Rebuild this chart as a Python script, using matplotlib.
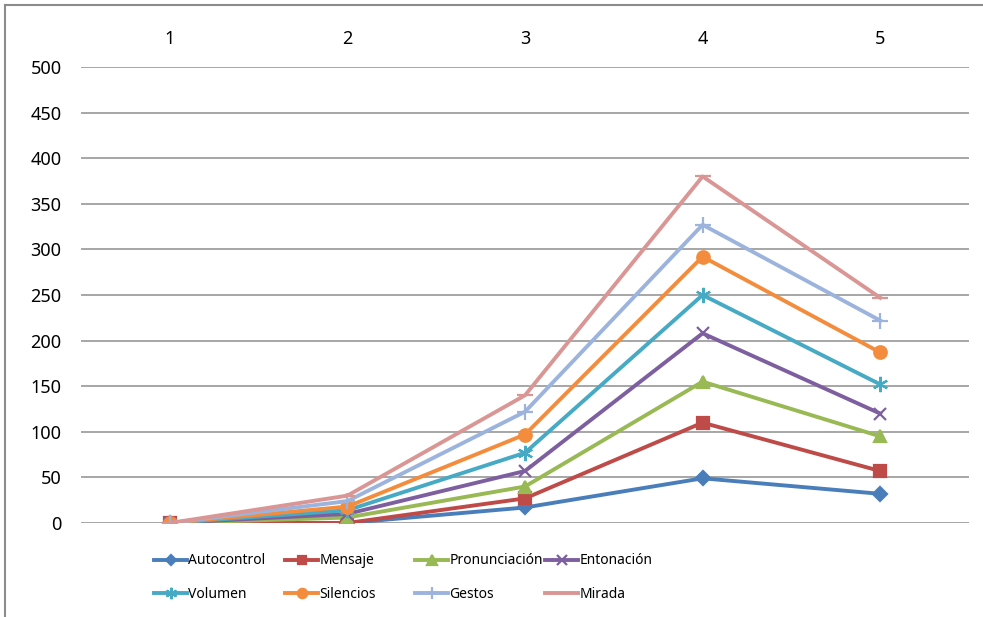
import numpy as np
import matplotlib.pyplot as plt
from matplotlib.lines import Line2D
from matplotlib import font_manager

plt.rcParams['font.family'] = ['Noto Sans', 'DejaVu Sans']

# cumulative scores per session
sessions = [1, 2, 3, 4, 5]
autocontrol = [0, 0, 17, 49, 32]
mensaje = [0, 0, 27, 110, 57]
pronunciacion = [0, 6, 40, 155, 95]
entonacion = [0, 10, 57, 208, 120]
volumen = [0, 14, 77, 250, 152]
silencios = [0, 18, 97, 292, 187]
gestos = [0, 24, 122, 327, 222]
mirada = [0, 30, 140, 380, 247]

names = ["Autocontrol", "Mensaje", "Pronunciación", "Entonación",
         "Volumen", "Silencios", "Gestos", "Mirada"]
series = [autocontrol, mensaje, pronunciacion, entonacion,
          volumen, silencios, gestos, mirada]
colors = ["#4A7EBB", "#BE4B48", "#98B954", "#7D5FA0",
          "#46AAC5", "#F38C3C", "#9CB4DD", "#D99694"]
markers = ["D", "s", "^", "x", (6, 2, 0), "o", "+", "_"]
msizes = [7, 8, 9, 9, 11, 9, 11, 11]

# narrow face for the legend if there is one
installed = {f.name for f in font_manager.fontManager.ttflist}
if 'Liberation Sans Narrow' in installed:
    leg_font = {'family': 'Liberation Sans Narrow', 'size': 12.5}
else:
    leg_font = {'family': 'Noto Sans', 'size': 10}

fig = plt.figure(figsize=(9.83, 6.17), dpi=100)
ax = fig.add_axes([81/983, 1 - 523/617, 888/983, 456/617])

handles = []
for vals, name, col, mk, ms in zip(series, names, colors, markers, msizes):
    h, = ax.plot(sessions, vals, color=col, lw=2.8, marker=mk, ms=ms,
                 mec=col, mfc=col, mew=1.6, label=name, zorder=3)
    handles.append(h)

ax.set_xlim(0.5, 5.5)
ax.set_ylim(0, 500)
ax.set_yticks(np.arange(0, 501, 50))
ax.set_xticks(sessions)
ax.xaxis.tick_top()
ax.tick_params(axis='both', length=0, labelsize=13, colors='black')
ax.tick_params(axis='y', pad=14)
ax.tick_params(axis='x', pad=14)
ax.grid(axis='y', color='#A6A6A6', lw=1.4)
ax.set_axisbelow(True)
for sp in ax.spines.values():
    sp.set_visible(False)

# legend laid out in a fixed 4x2 grid
col_x = [154, 285, 415, 545]
row_y = [561, 594]
for i, h in enumerate(handles):
    x = col_x[i % 4] / 983
    y = 1 - row_y[i // 4] / 617
    fig.legend([h], [names[i]], loc='center left', bbox_to_anchor=(x, y),
               frameon=False, prop=leg_font, handlelength=33 / (leg_font['size'] * 100 / 72),
               handletextpad=0.1, borderpad=0, borderaxespad=0,
               markerscale=0.75)

# outer chart border (left and top edges)
fig.add_artist(Line2D([5/983, 5/983], [0, 1 - 5/617], color='#8C8C8C', lw=1.5,
                      transform=fig.transFigure))
fig.add_artist(Line2D([5/983, 1], [1 - 5/617, 1 - 5/617], color='#8C8C8C', lw=1.5,
                      transform=fig.transFigure))

fig.savefig("out.png", dpi=100)
